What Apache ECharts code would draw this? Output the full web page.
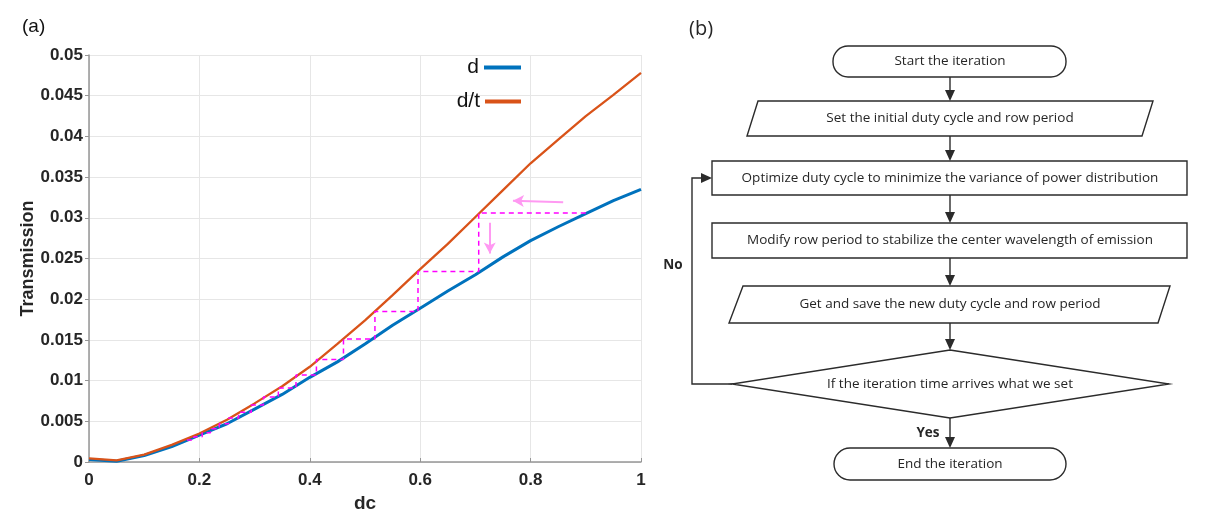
<!DOCTYPE html>
<html>
<head>
<meta charset="utf-8">
<title>Transmission vs dc and iteration flowchart</title>
<script src="https://cdn.jsdelivr.net/npm/echarts@6/dist/echarts.min.js"></script>
<style>
  html, body { margin: 0; padding: 0; background: #fff; }
  #chart { width: 1208px; height: 526px; }
</style>
</head>
<body>
<div id="chart"></div>
<script>
// duty cycle samples
var dcValues = [0, 0.05, 0.1, 0.15, 0.2, 0.25, 0.3, 0.35, 0.4, 0.45, 0.5,
    0.55, 0.6, 0.65, 0.7, 0.75, 0.8, 0.85, 0.9, 0.95, 1];
var dValues = [0.0003, 0.0001, 0.0008, 0.0019, 0.0033, 0.0047, 0.0065, 0.0083, 0.0104, 0.0123, 0.0145,
    0.0168, 0.0189, 0.0210, 0.0230, 0.0252, 0.0272, 0.0289, 0.0305, 0.0321, 0.0335];
var dtValues = [0.00045, 0.0002, 0.0009, 0.0021, 0.0035, 0.0052, 0.0072, 0.0093, 0.0117, 0.0145, 0.0174,
    0.0205, 0.0237, 0.0268, 0.0301, 0.0334, 0.0367, 0.0396, 0.0425, 0.0451, 0.0478];

// iteration staircase between the two curves
var stairX = [0.9, 0.706, 0.706, 0.596, 0.596, 0.518, 0.518, 0.461, 0.461, 0.412, 0.412, 0.375, 0.375,
    0.343, 0.343, 0.316, 0.316, 0.294, 0.294, 0.271, 0.271, 0.253, 0.253, 0.236, 0.236, 0.220, 0.220,
    0.205, 0.205, 0.190, 0.190, 0.175];
var stairY = [0.0306, 0.0306, 0.0234, 0.0234, 0.0185, 0.0185, 0.0151, 0.0151, 0.0126, 0.0126, 0.0107, 0.0107, 0.0091,
    0.0091, 0.0080, 0.0080, 0.0070, 0.0070, 0.0061, 0.0061, 0.0054, 0.0054, 0.0047, 0.0047, 0.0041, 0.0041, 0.0036,
    0.0036, 0.0031, 0.0031, 0.0027, 0.0027];

// pink hint arrows [x1, y1, x2, y2]
var hintArrows = [
    [0.859, 0.0319, 0.768, 0.0321],
    [0.726, 0.0294, 0.726, 0.0256]
];

var xTickLabels = ['0', '0.2', '0.4', '0.6', '0.8', '1'];
var yTickLabels = ['0', '0.005', '0.01', '0.015', '0.02', '0.025', '0.03', '0.035', '0.04', '0.045', '0.05'];

var flowSteps = [
    'Start the iteration',
    'Set the initial duty cycle and row period',
    'Optimize duty cycle to minimize the variance of power distribution',
    'Modify row period to stabilize the center wavelength of emission',
    'Get and save the new duty cycle and row period',
    'If the iteration time arrives what we set',
    'End the iteration'
];

(function () {
    var myChart = echarts.init(document.getElementById('chart'));
    var axisFont = 'Liberation Sans, Arial, sans-serif';
    var flowFont = '"Open Sans", "Noto Sans", sans-serif';
    var ink = '#2b2b2b';

    function pairs(xs, ys) {
        return xs.map(function (x, i) { return [x, ys[i]]; });
    }

    // ----- flowchart pieces -----
    var g = [];
    function box(shapeType, shape) {
        g.push({ type: shapeType, shape: shape, style: { fill: '#fff', stroke: ink, lineWidth: 1.4 } });
    }
    function label(text, x, y, opts) {
        opts = opts || {};
        g.push({
            type: 'text', x: x, y: y, z: 10,
            style: {
                text: text, align: opts.align || 'center', verticalAlign: 'middle',
                font: (opts.weight || 'normal') + ' ' + (opts.size || 13.5) + 'px ' + (opts.family || flowFont),
                fill: opts.color || '#262626'
            }
        });
    }
    function head(x, y, dir) {
        var p = dir === 'down' ? [[x - 5, y - 11], [x + 5, y - 11], [x, y]]
                               : [[x - 11, y - 5], [x - 11, y + 5], [x, y]];
        g.push({ type: 'polygon', shape: { points: p }, style: { fill: ink } });
    }
    function arrowDown(x, y1, y2) {
        g.push({ type: 'line', shape: { x1: x, y1: y1, x2: x, y2: y2 - 9 }, style: { stroke: ink, lineWidth: 1.4 } });
        head(x, y2, 'down');
    }

    var cx = 950;
    box('rect', { x: 833, y: 46, width: 233, height: 31, r: 15 });
    box('polygon', { points: [[758, 101], [1153, 101], [1142, 136], [747, 136]] });
    box('rect', { x: 712, y: 161, width: 475, height: 34 });
    box('rect', { x: 712, y: 223, width: 475, height: 35 });
    box('polygon', { points: [[743, 286], [1170, 286], [1158, 323], [729, 323]] });
    box('polygon', { points: [[cx, 350], [1169, 384], [cx, 418], [732, 384]] });
    box('rect', { x: 834, y: 448, width: 232, height: 32, r: 16 });

    arrowDown(cx, 77, 101);
    arrowDown(cx, 136, 161);
    arrowDown(cx, 195, 223);
    arrowDown(cx, 258, 286);
    arrowDown(cx, 323, 350);
    arrowDown(cx, 418, 448);

    // "No" loop back to the optimize step
    g.push({
        type: 'polyline',
        shape: { points: [[732, 384], [692, 384], [692, 178], [703, 178]] },
        style: { stroke: ink, lineWidth: 1.4, fill: null }
    });
    head(712, 178, 'right');

    var textY = [61.5, 118.5, 178, 240.5, 304.5, 384, 464];
    flowSteps.forEach(function (t, i) { label(t, cx, textY[i]); });
    label('No', 673, 265, { weight: 'bold', size: 13.5 });
    label('Yes', 928, 433, { weight: 'bold', size: 13.5 });
    label('(b)', 689, 29, { align: 'left', size: 20 });
    label('(a)', 22, 27, { align: 'left', size: 19, family: axisFont, color: '#111' });

    myChart.setOption({
        animation: false,
        grid: { left: 89, right: 567, top: 55, bottom: 64 },
        legend: [{
            data: ['d'], right: 682, top: 52, orient: 'vertical', align: 'right',
            icon: 'rect', itemWidth: 37, itemHeight: 4, itemGap: 10,
            textStyle: { fontFamily: axisFont, fontSize: 21, color: '#111' }
        }, {
            data: ['d/t'], right: 682, top: 86, orient: 'vertical', align: 'right',
            icon: 'rect', itemWidth: 36, itemHeight: 4,
            textStyle: { fontFamily: axisFont, fontSize: 21, color: '#111' }
        }],
        xAxis: {
            type: 'value', min: 0, max: 1, interval: 0.2,
            name: 'dc', nameLocation: 'middle', nameGap: 30,
            nameTextStyle: { fontFamily: axisFont, fontSize: 19, fontWeight: 'bold', color: '#262626' },
            axisLine: { show: true, lineStyle: { color: '#969696', width: 1.5 } },
            axisTick: { show: true, inside: true, length: 4, lineStyle: { color: '#969696' } },
            axisLabel: {
                margin: 10, fontFamily: axisFont, fontSize: 17, fontWeight: 'bold', color: '#262626',
                formatter: function (v, i) { return xTickLabels[i]; }
            },
            splitLine: { show: true, lineStyle: { color: '#e6e6e6', width: 1 } }
        },
        yAxis: {
            type: 'value', min: 0, max: 0.05, interval: 0.005,
            name: 'Transmission', nameLocation: 'middle', nameGap: 50,
            nameTextStyle: { fontFamily: axisFont, fontSize: 18, fontWeight: 'bold', color: '#262626' },
            axisLine: { show: true, lineStyle: { color: '#969696', width: 1.5 } },
            axisTick: { show: true, inside: false, length: 4, lineStyle: { color: '#969696' } },
            axisLabel: {
                margin: 6, fontFamily: axisFont, fontSize: 17, fontWeight: 'bold', color: '#262626',
                formatter: function (v, i) { return yTickLabels[i]; }
            },
            splitLine: { show: true, lineStyle: { color: '#e6e6e6', width: 1 } }
        },
        series: [{
            name: 'steps',
            type: 'line',
            data: pairs(stairX, stairY),
            showSymbol: false,
            z: 3,
            lineStyle: { color: '#ff00ff', width: 1.5, type: [5, 4] },
            markLine: {
                silent: true,
                symbol: ['none', 'arrow'],
                symbolSize: [9, 11],
                label: { show: false },
                lineStyle: { color: '#ff99f2', width: 2, type: 'solid' },
                data: hintArrows.map(function (a) {
                    return [{ coord: [a[0], a[1]] }, { coord: [a[2], a[3]] }];
                })
            }
        }, {
            name: 'd',
            type: 'line',
            data: pairs(dcValues, dValues),
            showSymbol: false,
            color: '#0072BD',
            z: 2,
            lineStyle: { color: '#0072BD', width: 3 }
        }, {
            name: 'd/t',
            type: 'line',
            data: pairs(dcValues, dtValues),
            showSymbol: false,
            color: '#D95319',
            z: 2,
            lineStyle: { color: '#D95319', width: 2.3 }
        }],
        graphic: g
    });
})();
</script>
</body>
</html>
